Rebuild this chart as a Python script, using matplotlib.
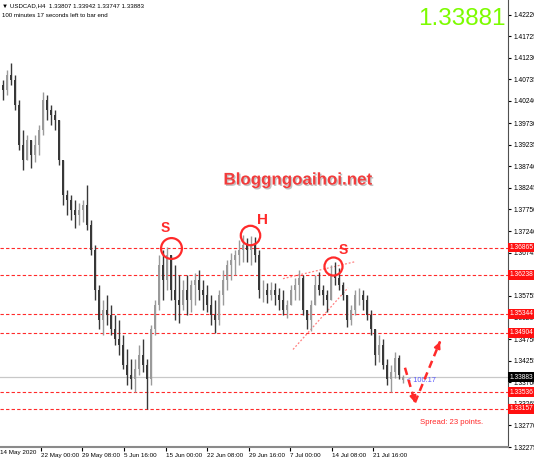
import matplotlib
matplotlib.use("Agg")
import matplotlib.pyplot as plt
from matplotlib import patheffects
import matplotlib.transforms as mtransforms
import numpy as np

plt.rcParams['font.family'] = ['Liberation Sans', 'DejaVu Sans']

highs = [1.4073, 1.4096, 1.4112, 1.4084, 1.4027, 1.3958, 1.3946, 1.3935, 1.3946, 1.3969,
         1.4045, 1.4038, 1.4015, 1.4004, 1.3969, 1.3889, 1.3820, 1.3808, 1.3797, 1.3790,
         1.3797, 1.3831, 1.3751, 1.3693, 1.3601, 1.3567, 1.3578, 1.3555, 1.3532, 1.3521,
         1.3486, 1.3452, 1.3429, 1.3429, 1.3463, 1.3475, 1.3429, 1.3509, 1.3567, 1.3670,
         1.3682, 1.3688, 1.3670, 1.3647, 1.3624, 1.3613, 1.3624, 1.3613, 1.3629, 1.3636,
         1.3613, 1.3601, 1.3578, 1.3567, 1.3590, 1.3636, 1.3659, 1.3675, 1.3682, 1.3705,
         1.3716, 1.3709, 1.3714, 1.3711, 1.3682, 1.3613, 1.3606, 1.3608, 1.3606, 1.3594,
         1.3590, 1.3567, 1.3601, 1.3617, 1.3636, 1.3624, 1.3544, 1.3567, 1.3624, 1.3631,
         1.3601, 1.3590, 1.3647, 1.3654, 1.3640, 1.3608, 1.3578, 1.3555, 1.3590, 1.3594,
         1.3590, 1.3578, 1.3544, 1.3498, 1.3486, 1.3475, 1.3429, 1.3417, 1.3447, 1.3440,
         1.33942]
lows = [1.4027, 1.4038, 1.4061, 1.4004, 1.3912, 1.3866, 1.3889, 1.3870, 1.3884, 1.3900,
        1.3946, 1.3981, 1.3969, 1.3958, 1.3877, 1.3785, 1.3762, 1.3751, 1.3732, 1.3739,
        1.3746, 1.3728, 1.3670, 1.3567, 1.3498, 1.3486, 1.3509, 1.3486, 1.3463, 1.3440,
        1.3406, 1.3371, 1.3360, 1.3355, 1.3394, 1.3401, 1.3316, 1.3371, 1.3486, 1.3544,
        1.3567, 1.3590, 1.3567, 1.3521, 1.3514, 1.3544, 1.3532, 1.3539, 1.3555, 1.3567,
        1.3544, 1.3539, 1.3509, 1.3491, 1.3509, 1.3555, 1.3590, 1.3613, 1.3624, 1.3647,
        1.3654, 1.3654, 1.3647, 1.3654, 1.3571, 1.3562, 1.3560, 1.3567, 1.3555, 1.3544,
        1.3532, 1.3525, 1.3555, 1.3567, 1.3567, 1.3532, 1.3498, 1.3495, 1.3555, 1.3578,
        1.3555, 1.3539, 1.3567, 1.3601, 1.3590, 1.3567, 1.3504, 1.3509, 1.3532, 1.3555,
        1.3544, 1.3521, 1.3486, 1.3417, 1.3424, 1.3406, 1.3371, 1.3355, 1.3387, 1.3383,
        1.33747]
closes = [1.4050, 1.4084, 1.4073, 1.4015, 1.3923, 1.3889, 1.3935, 1.3900, 1.3923, 1.3958,
          1.4027, 1.4004, 1.3992, 1.3981, 1.3889, 1.3808, 1.3797, 1.3774, 1.3762, 1.3774,
          1.3785, 1.3739, 1.3682, 1.3590, 1.3521, 1.3544, 1.3532, 1.3498, 1.3475, 1.3463,
          1.3417, 1.3394, 1.3383, 1.3406, 1.3440, 1.3417, 1.3383, 1.3498, 1.3555, 1.3647,
          1.3613, 1.3670, 1.3590, 1.3567, 1.3555, 1.3590, 1.3567, 1.3601, 1.3613, 1.3590,
          1.3578, 1.3555, 1.3532, 1.3521, 1.3578, 1.3613, 1.3647, 1.3659, 1.3670, 1.3682,
          1.3693, 1.3682, 1.3693, 1.3670, 1.3590, 1.3590, 1.3578, 1.3590, 1.3578, 1.3567,
          1.3544, 1.3555, 1.3590, 1.3601, 1.3617, 1.3544, 1.3521, 1.3555, 1.3601, 1.3590,
          1.3578, 1.3567, 1.3624, 1.3617, 1.3601, 1.3578, 1.3521, 1.3544, 1.3578, 1.3578,
          1.3567, 1.3532, 1.3498, 1.3440, 1.3463, 1.3417, 1.3383, 1.3401, 1.3433, 1.3394,
          1.33883]
first_open = 1.4061
last_open = 1.33807

levels = [1.36865, 1.36238, 1.35344, 1.34904, 1.33536, 1.33157]
bid = 1.33883
price_ticks = [1.42220, 1.41725, 1.41230, 1.40735, 1.40240, 1.39730, 1.39235, 1.38740,
               1.38245, 1.37750, 1.37240, 1.36745, 1.36250, 1.35755, 1.35260, 1.34750,
               1.34255, 1.33760, 1.33265, 1.32770, 1.32275]
date_pos = [9.5, 19.75, 30.25, 40.75, 51, 61.5, 71.75, 82.25, 92.5]
date_labels = ["22 May 00:00", "29 May 08:00", "5 Jun 16:00", "15 Jun 00:00", "22 Jun 08:00",
               "29 Jun 16:00", "7 Jul 00:00", "14 Jul 08:00", "21 Jul 16:00"]

# pattern marks: (bar, price)
shoulder_l = (42.0, 1.3686)
head = (61.75, 1.3716)
shoulder_r = (82.5, 1.3645)
neck_up = ([70, 88], [1.3615, 1.3654])
neck_dn = ([72.5, 86.25], [1.3452, 1.3594])
path_dn = ([100.5, 103], [1.3410, 1.3330])
path_up = ([103, 109.25], [1.3330, 1.3470])

opens = [first_open] + closes[:-2] + [last_open]
x = np.arange(len(closes))
o = np.array(opens)
c = np.array(closes)
h = np.maximum(np.array(highs), np.maximum(o, c))
l = np.minimum(np.array(lows), np.minimum(o, c))
up = c >= o

fig = plt.figure(figsize=(5.34, 4.62), dpi=100)
ax = fig.add_axes([0, 15 / 462, 508 / 534, 447 / 462])
ax.set_xlim(-0.75, 126.25)
ax.set_ylim(1.32275, 1.42565)

red = '#ff2a2a'
for lv in levels:
    ax.axhline(lv, color=red, lw=0.8, ls=(0, (3, 2)), zorder=1)
ax.axhline(bid, color='#c8c8c8', lw=0.9, zorder=1)

cols = np.where(up, '#9a9a9a', '#383838')
ax.vlines(x, l, h, colors=cols, lw=1.0, zorder=3)
ax.bar(x, c - o, bottom=o, width=0.6, color=cols, linewidth=0, zorder=3)

# neckline / trend lines
ax.plot(*neck_up, color='#ff8080', lw=0.9, ls=(0, (1.5, 1.5)), zorder=2)
ax.plot(*neck_dn, color='#ff8080', lw=0.9, ls=(0, (1.5, 1.5)), zorder=2)

# circles and letters
for (cx, cy), ms in [(shoulder_l, 15), (head, 14), (shoulder_r, 13)]:
    ax.plot(cx, cy, 'o', ms=ms, mfc='none', mec=red, mew=1.6, zorder=4)
ax.text(40.5, 1.3732, "S", color=red, fontsize=10, fontweight='bold', ha='center', va='center')
ax.text(64.75, 1.3751, "H", color=red, fontsize=11, fontweight='bold', ha='center', va='center')
ax.text(85, 1.3682, "S", color=red, fontsize=10, fontweight='bold', ha='center', va='center')

# projected path arrows
for xs, ys in [path_dn, path_up]:
    ax.plot(xs, ys, color=red, lw=1.8, ls=(0, (3, 2)), zorder=4)
    ax.annotate("", xy=(xs[1], ys[1]),
                xytext=(xs[1] - (xs[1] - xs[0]) * 0.05, ys[1] - (ys[1] - ys[0]) * 0.05),
                arrowprops=dict(arrowstyle='-|>', color=red, lw=1.5, mutation_scale=9))

ax.text(297.5 / 4 - 0.75, 1.3842, "Bloggngoaihoi.net", color='#f23c3c', fontsize=12.2,
        fontweight='bold', ha='center', va='center',
        path_effects=[patheffects.withSimplePatchShadow(offset=(1, -1), shadow_rgbFace='#999999', alpha=0.6)])

ax.text(100.9, 1.3380, "< 100:17", color='#5a5aff', fontsize=5.3, va='center')
ax.text(104.25, 1.3284, "Spread: 23 points.", color=red, fontsize=5.6, va='center')

# header texts
ax.text(0.004, 0.988, "\u25bc USDCAD,H4  1.33807 1.33942 1.33747 1.33883", transform=ax.transAxes,
        fontsize=4.4, va='center', ha='left')
ax.text(0.004, 0.966, "100 minutes 17 seconds left to bar end", transform=ax.transAxes,
        fontsize=4.4, va='center', ha='left')
ax.text(0.995, 0.958, "%.5f" % 1.33881, transform=ax.transAxes, color='#7cfc00',
        fontsize=17.5, ha='right', va='center')

# axes styling
for s in ['left', 'top']:
    ax.spines[s].set_visible(False)
ax.spines['right'].set_color('#505050')
ax.spines['bottom'].set_color('#8a8a8a')
ax.spines['bottom'].set_linewidth(1.5)
ax.yaxis.tick_right()
ax.set_yticks(price_ticks)
ax.set_yticklabels(["%.5f" % p for p in price_ticks])
ax.tick_params(axis='y', labelsize=4.8, length=2.5, pad=1.5, colors='black')
ax.set_xticks(date_pos)
ax.set_xticklabels(date_labels, ha='left')
ax.tick_params(axis='x', labelsize=4.5, length=3, pad=1.5, colors='black')
ax.text(0.0, -0.007, "14 May 2020", transform=ax.transAxes, fontsize=4.5, ha='left', va='top')

# price labels on the axis
trans = mtransforms.blended_transform_factory(ax.transAxes, ax.transData)
for lv in levels:
    ax.text(1.003, lv, "%.5f" % lv, transform=trans, fontsize=4.8, color='white', va='center',
            ha='left', clip_on=False, zorder=6,
            bbox=dict(boxstyle='square,pad=0.2', fc='#ff1010', ec='none'))
ax.text(1.003, bid, "%.5f" % bid, transform=trans, fontsize=4.8, color='white', va='center',
        ha='left', clip_on=False, zorder=6,
        bbox=dict(boxstyle='square,pad=0.2', fc='black', ec='none'))

fig.savefig("out.png", dpi=100)
